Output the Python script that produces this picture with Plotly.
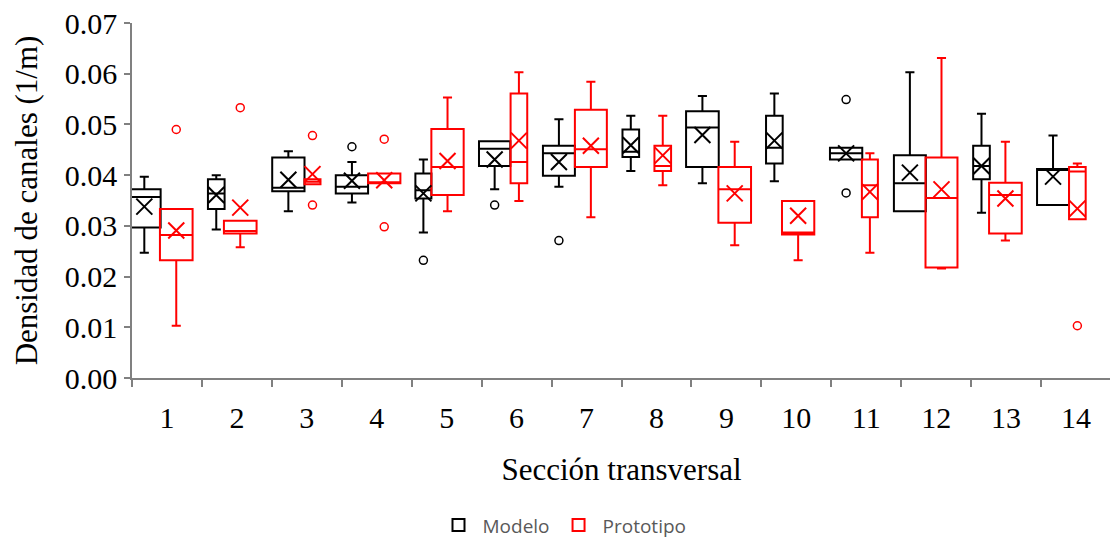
import plotly.graph_objects as go

categories = [str(i) for i in range(1, 15)]
y_ticks = [0.0, 0.01, 0.02, 0.03, 0.04, 0.05, 0.06, 0.07]

# Modelo statistics
modelo_low = [0.0247, 0.0293, 0.0329, 0.0346, 0.0287, 0.0372, 0.0377, 0.0408, 0.0384, 0.0388, 0.0431, 0.0329, 0.0326, 0.0341]
modelo_q1 = [0.0297, 0.0333, 0.0368, 0.0364, 0.0354, 0.0418, 0.0399, 0.0436, 0.0416, 0.0423, 0.0431, 0.0329, 0.0392, 0.0341]
modelo_med = [0.0357, 0.0364, 0.0375, 0.0377, 0.0370, 0.0452, 0.0443, 0.0446, 0.0494, 0.0454, 0.0443, 0.0384, 0.0418, 0.0412]
modelo_q3 = [0.0372, 0.0392, 0.0435, 0.0400, 0.0403, 0.0467, 0.0458, 0.0490, 0.0526, 0.0517, 0.0454, 0.0439, 0.0458, 0.0412]
modelo_high = [0.0397, 0.0400, 0.0447, 0.0426, 0.0431, 0.0467, 0.0510, 0.0517, 0.0556, 0.0561, 0.0454, 0.0603, 0.0521, 0.0478]
modelo_mean = [0.0338, 0.0361, 0.0391, 0.0389, 0.0364, 0.0431, 0.0426, 0.0459, 0.0479, 0.0468, 0.0443, 0.0405, 0.0418, 0.0397]
modelo_out_cat = [4, 5, 6, 7, 11, 11]
modelo_out_val = [0.0456, 0.0232, 0.0341, 0.0271, 0.0549, 0.0365]

# Prototipo statistics
proto_low = [0.0103, 0.0258, 0.0382, 0.0384, 0.0329, 0.0349, 0.0317, 0.0380, 0.0262, 0.0232, 0.0247, 0.0216, 0.0271, 0.0313]
proto_q1 = [0.0232, 0.0285, 0.0382, 0.0384, 0.0361, 0.0384, 0.0416, 0.0408, 0.0306, 0.0283, 0.0317, 0.0218, 0.0285, 0.0313]
proto_med = [0.0282, 0.0290, 0.0387, 0.0384, 0.0416, 0.0426, 0.0451, 0.0418, 0.0372, 0.0287, 0.0380, 0.0355, 0.0361, 0.0407]
proto_q3 = [0.0333, 0.0310, 0.0392, 0.0403, 0.0491, 0.0561, 0.0529, 0.0458, 0.0416, 0.0349, 0.0431, 0.0435, 0.0385, 0.0416]
proto_high = [0.0333, 0.0310, 0.0392, 0.0403, 0.0553, 0.0603, 0.0584, 0.0517, 0.0466, 0.0349, 0.0443, 0.0631, 0.0466, 0.0423]
proto_mean = [0.0291, 0.0336, 0.0402, 0.0390, 0.0428, 0.0468, 0.0458, 0.0439, 0.0364, 0.0320, 0.0367, 0.0372, 0.0354, 0.0334]
proto_out_cat = [1, 2, 3, 3, 4, 4, 14]
proto_out_val = [0.0490, 0.0533, 0.0478, 0.0341, 0.0471, 0.0298, 0.0103]

# Layout of boxes (offset from category centre and box width, in category units)
modelo_offset = [-0.324, -0.295, -0.264, -0.355, -0.333, -0.314, -0.395, -0.367, -0.343, -0.314, -0.288, -0.376, -0.352, -0.329]
modelo_width = [0.467, 0.238, 0.462, 0.462, 0.229, 0.448, 0.457, 0.238, 0.467, 0.238, 0.462, 0.457, 0.238, 0.457]
proto_offset = [0.133, 0.048, 0.081, 0.107, 0.012, 0.033, 0.062, 0.090, 0.119, 0.026, 0.052, 0.076, -0.010, 0.019]
proto_width = [0.467, 0.467, 0.229, 0.462, 0.462, 0.238, 0.457, 0.238, 0.467, 0.462, 0.229, 0.457, 0.467, 0.238]

BLACK = "#000000"
RED = "#FF0000"
CAP = 0.13

fig = go.Figure()

series = [
    ("Modelo", BLACK, modelo_low, modelo_q1, modelo_med, modelo_q3, modelo_high, modelo_mean,
     modelo_offset, modelo_width, modelo_out_cat, modelo_out_val),
    ("Prototipo", RED, proto_low, proto_q1, proto_med, proto_q3, proto_high, proto_mean,
     proto_offset, proto_width, proto_out_cat, proto_out_val),
]

for (name, color, lo, q1, med, q3, hi, mean, off, wid, oc, ov) in series:
    xs = []
    for i in range(len(categories)):
        x = i + 1 + off[i]
        xs.append(x)
        fig.add_trace(go.Box(
            x=[x], q1=[q1[i]], median=[med[i]], q3=[q3[i]],
            lowerfence=[lo[i]], upperfence=[hi[i]],
            width=wid[i], whiskerwidth=min(1.0, CAP / wid[i]),
            fillcolor="rgba(0,0,0,0)",
            line=dict(color=color, width=2),
            name=name, legendgroup=name, showlegend=(i == 0),
            boxpoints=False,
        ))
    fig.add_trace(go.Scatter(
        x=xs, y=mean, mode="markers", showlegend=False, legendgroup=name,
        marker=dict(symbol="x-thin", size=16, line=dict(color=color, width=2)),
        cliponaxis=False,
    ))
    ox = [c + off[c - 1] for c in oc]
    fig.add_trace(go.Scatter(
        x=ox, y=ov, mode="markers", showlegend=False, legendgroup=name,
        marker=dict(symbol="circle-open", size=8, color=color, line=dict(color=color, width=1.5)),
        cliponaxis=False,
    ))

axis_color = "#808080"
serif = "Liberation Serif"
FS = 31
TFS = 30

fig.update_layout(
    width=1110, height=536,
    margin=dict(l=124, r=7, t=15, b=166),
    paper_bgcolor="white", plot_bgcolor="white",
    boxmode="overlay",
    font=dict(family=serif, size=FS, color="black"),
    xaxis=dict(
        range=[0.5, 14.5], tickmode="array",
        tickvals=list(range(1, 15)), ticktext=categories,
        ticks="outside", ticklen=12, tickcolor="rgba(0,0,0,0)",
        minor=dict(tick0=0.5, dtick=1, ticks="outside", ticklen=7,
                   tickcolor=axis_color, tickwidth=1.5),
        showline=True, linecolor=axis_color, linewidth=1.5,
        showgrid=False, zeroline=False, automargin=False,
        ticklabeloverflow="allow",
        tickfont=dict(family=serif, size=TFS, color="black"),
        title=dict(text="Sección transversal", standoff=26,
                   font=dict(family=serif, size=FS, color="black")),
    ),
    yaxis=dict(
        range=[0, 0.07], tickmode="array", tickvals=y_ticks,
        ticktext=[f"{v:.2f}" for v in y_ticks],
        ticks="outside", ticklen=6, tickcolor=axis_color, tickwidth=1.5,
        ticklabelstandoff=1, ticklabeloverflow="allow",
        showline=True, linecolor=axis_color, linewidth=1.5,
        showgrid=False, zeroline=False, automargin=False,
        tickfont=dict(family=serif, size=TFS, color="black"),
        title=dict(text="Densidad de canales (1/m)", standoff=18,
                   font=dict(family=serif, size=FS, color="black")),
    ),
    legend=dict(
        orientation="h", xref="container", yref="container",
        x=0.5, xanchor="center", y=0.035, yanchor="middle",
        itemwidth=38,
        font=dict(family="Open Sans", size=19, color="#595959"),
        bgcolor="rgba(0,0,0,0)",
    ),
)

fig.write_html("out.html")
